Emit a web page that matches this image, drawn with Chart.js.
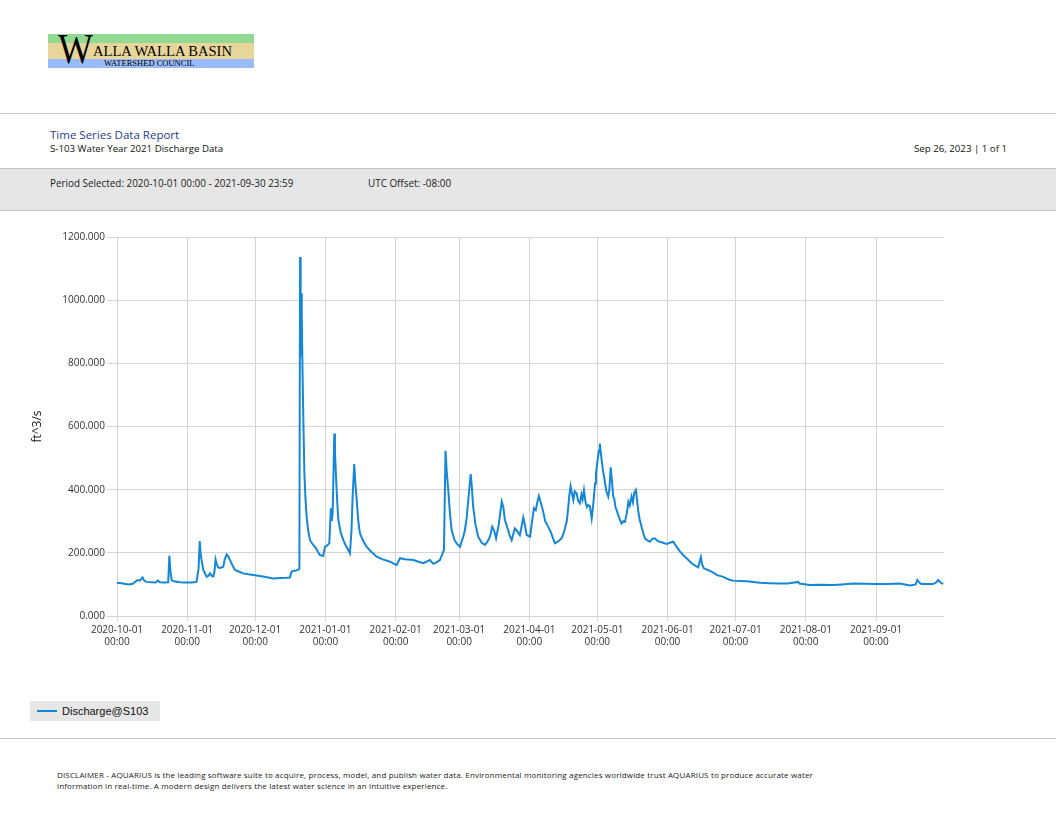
<!DOCTYPE html>
<html>
<head>
<meta charset="utf-8">
<script src="https://cdn.jsdelivr.net/npm/chart.js@4.4.0/dist/chart.umd.min.js"></script>
<style>
  html, body { margin:0; padding:0; background:#fff; }
  body { width:1056px; height:816px; position:relative; overflow:hidden; font-family:'Open Sans', sans-serif; }
  .abs { position:absolute; white-space:nowrap; }
  .hline { position:absolute; left:0; width:1056px; height:1px; background:#c8c8c8; }
  #logo { position:absolute; left:48px; top:34px; width:206px; height:34px; }
  #logo .g { position:absolute; left:0; top:0; width:206px; height:9px; background:#92d992; }
  #logo .t { position:absolute; left:0; top:9px; width:206px; height:16px; background:#e8d59a; }
  #logo .b { position:absolute; left:0; top:25px; width:206px; height:9px; background:#99bbf8; }
  #logo .w { position:absolute; left:10px; top:-6px; font-family:'Liberation Serif', serif; font-size:42px; line-height:42px; color:#000; transform:scaleX(0.88); transform-origin:left top; }
  #logo .n { position:absolute; left:45px; top:8px; font-family:'Liberation Serif', serif; font-size:15.5px; line-height:18px; color:#000; transform:scaleX(0.94); transform-origin:left top; }
  #logo .c { position:absolute; left:56px; top:24px; font-family:'Liberation Serif', serif; font-size:8.5px; line-height:10px; color:#000; }
  #band { position:absolute; left:0; top:168px; width:1056px; height:41px; background:#e6e6e6; border-top:1px solid #c4c4c4; border-bottom:1px solid #c4c4c4; }
  #chartbox { position:absolute; left:26px; top:215px; width:930px; height:445px; }
  #legend { position:absolute; left:30px; top:701px; width:130px; height:20px; background:#e6e6e6; }
  #legend .sw { position:absolute; left:7px; top:9px; width:20px; height:2px; }
  #legend .lt { position:absolute; left:32px; top:2px; font-family:'Liberation Sans', Arial, sans-serif; font-size:11px; line-height:16px; color:#111; }
  .disc { font-size:8px; line-height:11px; color:#222; letter-spacing:0.15px; }
</style>
</head>
<body>
<div id="logo">
  <div class="g"></div><div class="t"></div><div class="b"></div>
  <div class="w">W</div>
  <div class="n">ALLA WALLA BASIN</div>
  <div class="c">WATERSHED COUNCIL</div>
</div>
<div class="hline" style="top:113px"></div>
<div class="abs" style="left:50px;top:127px;font-size:11.5px;line-height:15px;color:#1f3c98;">Time Series Data Report</div>
<div class="abs" style="left:50px;top:142px;font-size:9.7px;line-height:14px;color:#111;">S-103 Water Year 2021 Discharge Data</div>
<div class="abs" style="right:49px;top:142px;font-size:9.7px;line-height:14px;color:#111;">Sep 26, 2023 | 1 of 1</div>
<div id="band"></div>
<div class="abs" style="left:50px;top:176px;font-size:9.9px;line-height:14px;color:#222;">Period Selected: 2020-10-01 00:00 - 2021-09-30 23:59</div>
<div class="abs" style="left:368px;top:176px;font-size:9.9px;line-height:14px;color:#222;">UTC Offset: -08:00</div>
<div id="chartbox"><canvas id="c"></canvas></div>
<div id="legend"><div class="sw"></div><div class="lt"></div></div>
<div class="hline" style="top:738px"></div>
<div class="abs disc" style="left:57px;top:769px;">DISCLAIMER - AQUARIUS is the leading software suite to acquire, process, model, and publish water data. Environmental monitoring agencies worldwide trust AQUARIUS to produce accurate water</div>
<div class="abs disc" style="left:57px;top:780px;">information in real-time. A modern design delivers the latest water science in an intuitive experience.</div>
<script>
// ---- data (days since 2020-10-01 00:00, discharge ft^3/s) ----
const seriesLabel = "Discharge@S103";
const yAxisTitle = "ft^3/s";
const monthDays = [0,31,61,92,123,151,182,212,243,273,304,335];
const monthLabels = ["2020-10-01","2020-11-01","2020-12-01","2021-01-01","2021-02-01","2021-03-01","2021-04-01","2021-05-01","2021-06-01","2021-07-01","2021-08-01","2021-09-01"];
const tickTime = "00:00";
const yTicks = [0,200,400,600,800,1000,1200];
const days = [0,2,5,7,9,10,11.3,12,13,15,17,18,19,21,22.6,23.1,23.6,24.1,25,27.8,30,33,35.1,36,36.5,37,38.1,39.6,40.5,41,42,42.5,43,43.5,44,44.7,45.5,46.9,47.5,48.4,49,49.9,51,52.1,54,55.7,58,61.6,65,69,72,75,76.3,77,77.5,80,80.5,80.8,81,81.1,81.3,81.5,81.6,81.9,82.3,82.7,83.2,83.7,84.4,85.2,86.6,87.5,88.5,89.6,91,91.8,92.5,93.7,94.4,94.8,95.2,95.9,96.2,96.6,97.2,97.7,98.7,99.9,101,102,102.8,103.5,104,104.7,105.2,105.8,106.5,107.2,108.5,110.2,112,114.6,117,120.5,123.4,124.9,127,130.8,133,135.2,138.1,139.6,141,142.5,144.3,145,145.5,146.2,147,147.7,149,149.9,151.4,152.8,153.5,154.3,155.2,156.1,156.6,157.2,158.2,159.4,161,162.4,163.5,164.6,165.6,166.5,167.3,168.5,169.8,170.5,171.2,172.4,173.3,174.2,175,175.6,176.5,177.8,178.5,179.3,180,180.8,182.3,183,184,184.8,185.5,186.2,186.8,187.4,188.1,189,190.3,191.5,192.5,193.3,194.5,195.3,196.2,197,197.7,198.5,199.2,199.6,200.2,200.7,201.4,202,202.9,203.5,204.3,205,205.5,206.1,206.8,207.4,208,208.7,209.5,210,210.5,211,211.4,211.9,212.4,212.8,213.1,213.5,213.9,214.4,215,215.4,216,216.8,217.3,217.9,218.4,219,219.5,220,220.5,221.5,222.7,223.5,224.2,225,225.7,226.3,227.1,227.7,228.3,229,229.5,230,230.7,231.5,232.3,233,234,235.2,236.3,237.4,238.5,239.6,241,242.6,244,245.5,247,248.5,249.9,251.5,253.6,255,256.5,257.7,258.2,259,261,263.2,264.6,267.6,270.5,272,274.9,278,283.8,288,292.6,296,300.7,301.2,305.8,310,316.1,320,325,330,335.3,340,345.5,350,352.5,353.2,354.2,355.1,358,360.2,361.5,362.4,363.5,364.6];
const flow = [105,104,100,102,114,112,122,112,108,107,106,112,107,106,107,191,140,114,110,107,106,106,108,150,237,190,146,124,128,135,126,125,140,179,165,153,152,156,178,195,190,177,160,146,140,135,132,128,124,119,120,121,122,140,142,146,150,1137,900,821,1022,880,952,768,600,452,370,314,270,240,225,218,205,193,190,219,222,230,341,300,330,578,520,452,360,304,265,240,222,210,198,272,380,481,420,367,300,262,240,219,205,188,180,172,161,183,180,177,172,167,177,165,170,177,209,523,460,399,320,272,240,230,219,251,270,309,380,449,410,346,290,251,232,225,235,251,283,270,246,290,362,345,304,277,255,240,262,277,270,256,280,312,290,256,251,290,341,335,360,380,365,350,330,300,283,265,245,230,235,240,246,260,277,300,346,380,411,390,367,395,388,365,357,385,370,399,360,345,351,348,309,340,378,420,452,480,509,525,546,520,494,465,440,420,395,378,400,471,430,378,370,345,335,314,293,300,298,325,362,350,378,360,390,399,370,335,305,283,262,246,240,235,245,246,238,235,232,228,232,235,219,204,193,182,167,160,154,186,165,151,145,137,130,124,114,112,111,110,105,104,103,103,108,103,98,99,98,100,103,102,101,101,103,97,100,114,105,101,101,101,106,114,106,101];
const lineColor = "#1587d8";

document.querySelector('#legend .sw').style.background = lineColor;
document.querySelector('#legend .lt').textContent = seriesLabel;

Chart.defaults.font.family = "'Open Sans', sans-serif";
Chart.defaults.color = "#333";

const points = days.map((d, i) => ({ x: d, y: flow[i] }));

new Chart(document.getElementById('c'), {
  type: 'line',
  data: { datasets: [{ label: seriesLabel, data: points, borderColor: lineColor, borderWidth: 2, pointRadius: 0, tension: 0, fill: false }] },
  options: {
    responsive: true,
    maintainAspectRatio: false,
    animation: false,
    layout: { padding: { top: 22, right: 12, left: 0, bottom: 0 } },
    plugins: { legend: { display: false }, tooltip: { enabled: false } },
    scales: {
      x: {
        type: 'linear', min: 0, max: 365,
        afterBuildTicks: (s) => { s.ticks = monthDays.map(v => ({ value: v })); },
        afterFit: (s) => { s.height = 44; },
        ticks: {
          autoSkip: false, maxRotation: 0, minRotation: 0, padding: 3,
          font: { size: 10 }, color: '#333',
          callback: (v) => { const i = monthDays.indexOf(v); return i >= 0 ? [monthLabels[i], tickTime] : ''; }
        },
        grid: { color: '#d4d4d4', lineWidth: 1, tickLength: 5 },
        border: { display: false }
      },
      y: {
        min: 0, max: 1200,
        afterBuildTicks: (s) => { s.ticks = yTicks.map(v => ({ value: v })); },
        afterFit: (s) => { s.width = 91; },
        ticks: { padding: 2, font: { size: 10 }, color: '#333', callback: (v) => Number(v).toFixed(3) },
        grid: { color: '#d4d4d4', lineWidth: 1, tickLength: 10 },
        border: { display: false },
        title: { display: true, text: yAxisTitle, font: { size: 12 }, color: '#222', padding: { top: 4, bottom: 4 } }
      }
    }
  }
});
</script>
</body>
</html>
